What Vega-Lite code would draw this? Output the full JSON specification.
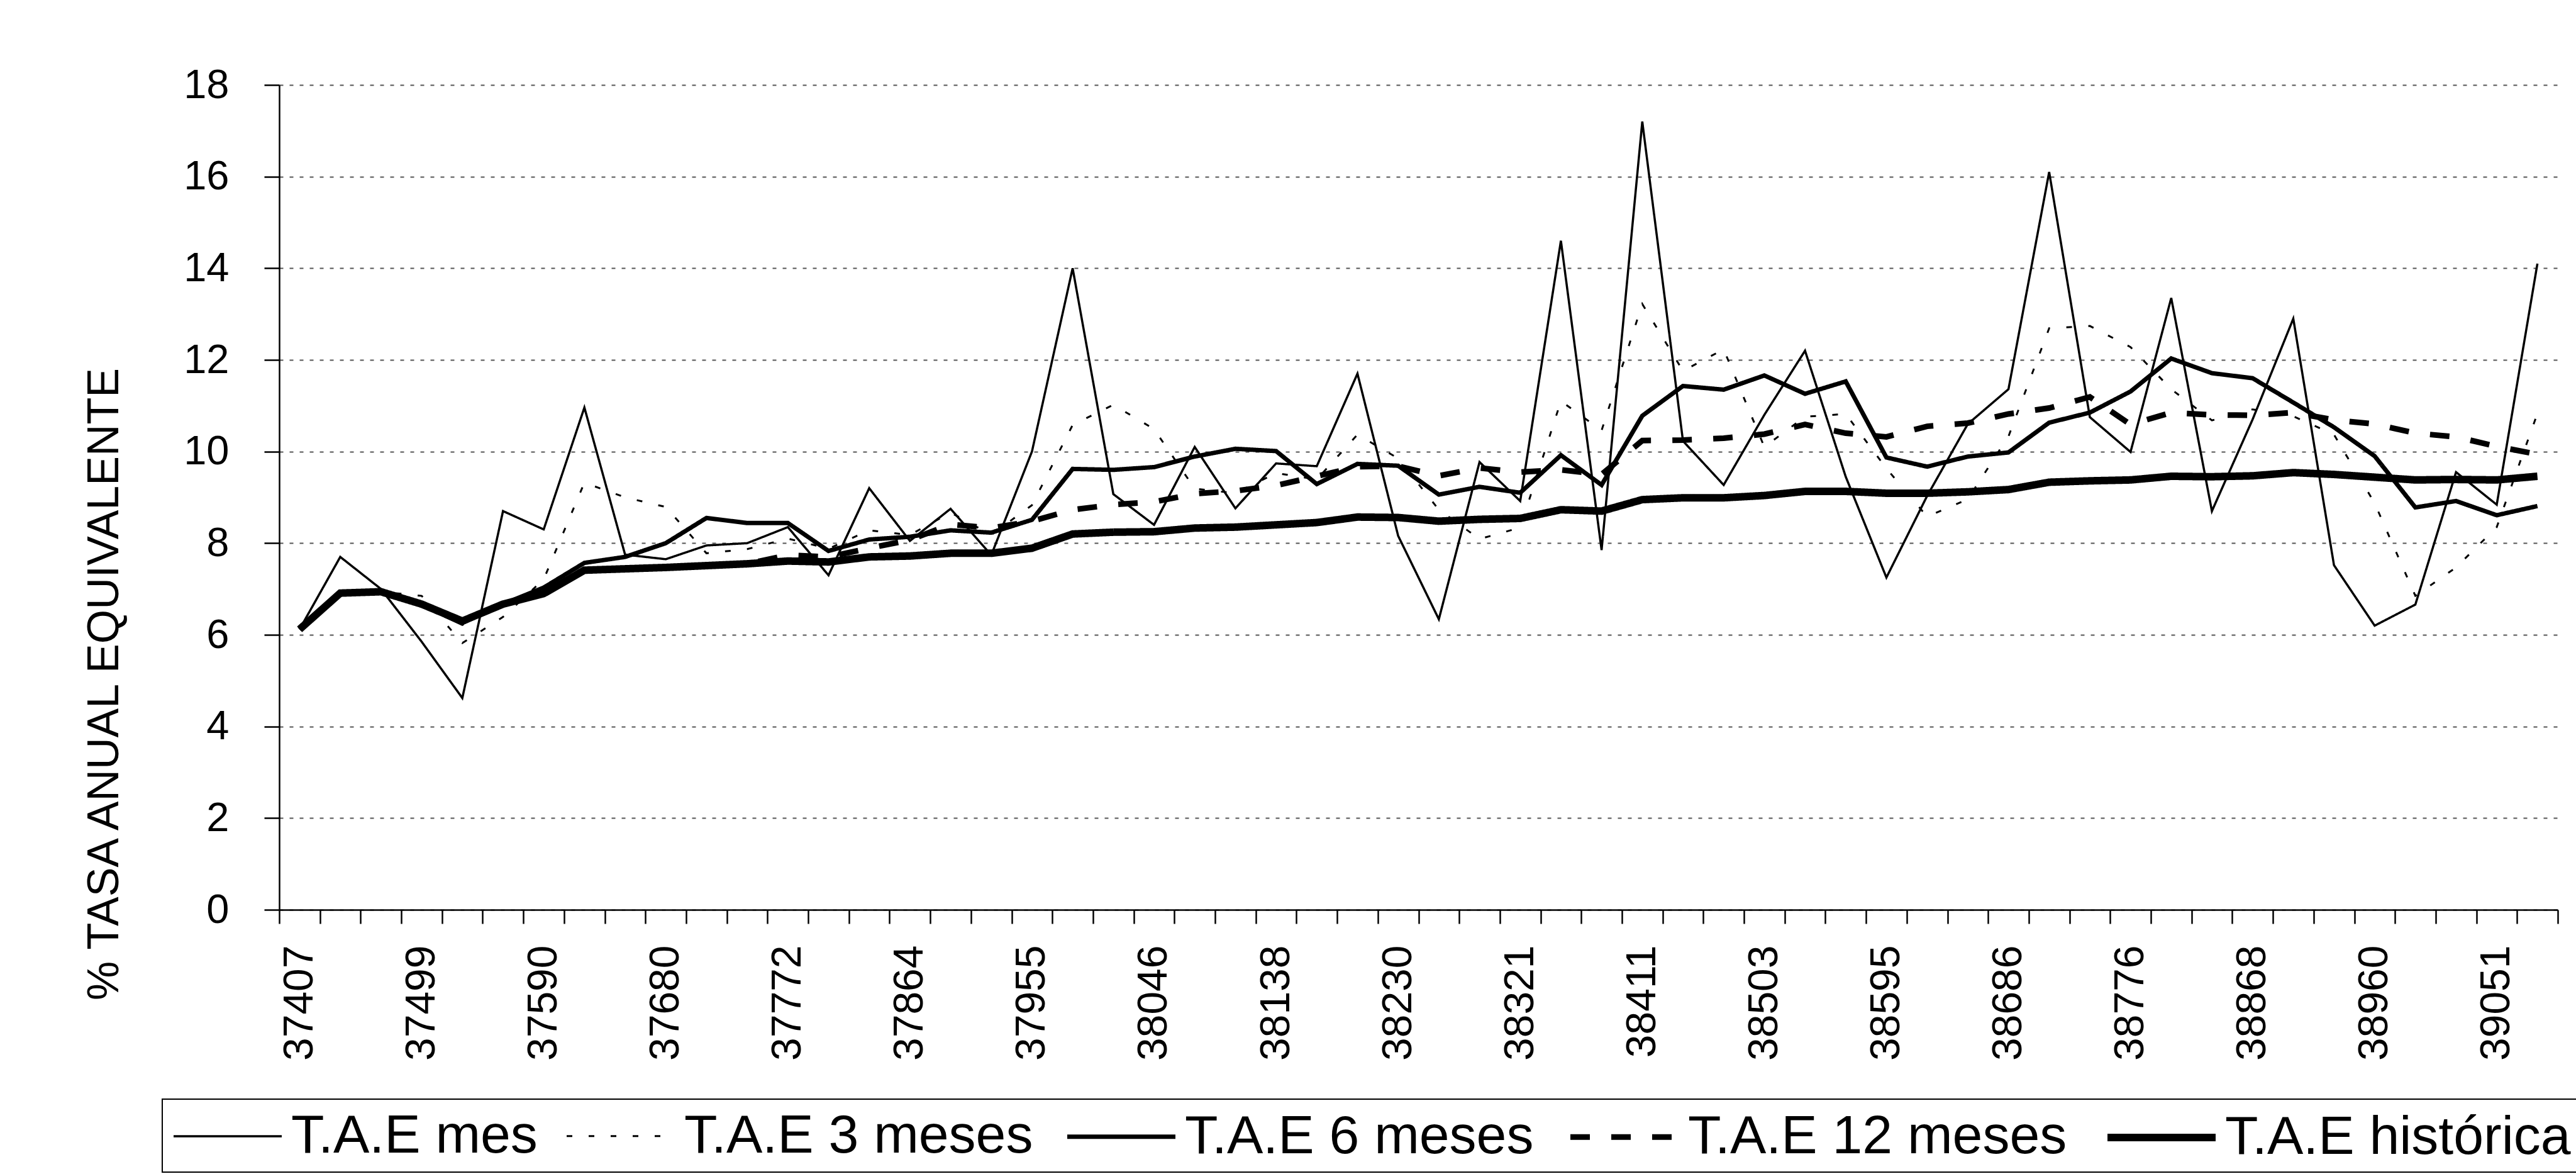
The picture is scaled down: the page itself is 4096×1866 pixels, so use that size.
{
  "$schema": "https://vega.github.io/schema/vega-lite/v6.json",
  "width": 3623,
  "height": 1311,
  "autosize": {"type": "none"},
  "padding": {"left": 444, "top": 135, "right": 29, "bottom": 420},
  "background": "white",
  "config": {
    "font": "Liberation Sans",
    "view": {"stroke": null},
    "legend": {
      "orient": "none",
      "legendX": -186,
      "legendY": 1612,
      "direction": "horizontal",
      "columns": 5,
      "labelFont": "Liberation Sans",
      "labelFontSize": 86,
      "labelColor": "black",
      "labelLimit": 2000,
      "labelOffset": 52,
      "columnPadding": 40,
      "symbolSize": 7396,
      "symbolOffset": 43,
      "symbolType": "M-2,0H2",
      "padding": 12,
      "strokeColor": "black",
      "strokeWidth": 2
    }
  },
  "data": {"values": [
    {"fecha":"37407","serie":"T.A.E mes","valor":6.12},{"fecha":"37437","serie":"T.A.E mes","valor":7.7},{"fecha":"37468","serie":"T.A.E mes","valor":7.0},{"fecha":"37499","serie":"T.A.E mes","valor":5.85},{"fecha":"37529","serie":"T.A.E mes","valor":4.62},{"fecha":"37560","serie":"T.A.E mes","valor":8.7},{"fecha":"37590","serie":"T.A.E mes","valor":8.3},{"fecha":"37621","serie":"T.A.E mes","valor":10.96},{"fecha":"37652","serie":"T.A.E mes","valor":7.75},{"fecha":"37680","serie":"T.A.E mes","valor":7.65},{"fecha":"37711","serie":"T.A.E mes","valor":7.95},{"fecha":"37741","serie":"T.A.E mes","valor":8.0},{"fecha":"37772","serie":"T.A.E mes","valor":8.35},{"fecha":"37802","serie":"T.A.E mes","valor":7.3},{"fecha":"37833","serie":"T.A.E mes","valor":9.2},{"fecha":"37864","serie":"T.A.E mes","valor":8.05},{"fecha":"37894","serie":"T.A.E mes","valor":8.75},{"fecha":"37925","serie":"T.A.E mes","valor":7.74},{"fecha":"37955","serie":"T.A.E mes","valor":10.0},{"fecha":"37986","serie":"T.A.E mes","valor":14.0},{"fecha":"38017","serie":"T.A.E mes","valor":9.07},{"fecha":"38046","serie":"T.A.E mes","valor":8.4},{"fecha":"38077","serie":"T.A.E mes","valor":10.1},{"fecha":"38107","serie":"T.A.E mes","valor":8.76},{"fecha":"38138","serie":"T.A.E mes","valor":9.74},{"fecha":"38168","serie":"T.A.E mes","valor":9.68},{"fecha":"38199","serie":"T.A.E mes","valor":11.7},{"fecha":"38230","serie":"T.A.E mes","valor":8.16},{"fecha":"38260","serie":"T.A.E mes","valor":6.34},{"fecha":"38291","serie":"T.A.E mes","valor":9.77},{"fecha":"38321","serie":"T.A.E mes","valor":8.92},{"fecha":"38352","serie":"T.A.E mes","valor":14.6},{"fecha":"38383","serie":"T.A.E mes","valor":7.85},{"fecha":"38411","serie":"T.A.E mes","valor":17.2},{"fecha":"38442","serie":"T.A.E mes","valor":10.23},{"fecha":"38472","serie":"T.A.E mes","valor":9.27},{"fecha":"38503","serie":"T.A.E mes","valor":10.8},{"fecha":"38533","serie":"T.A.E mes","valor":12.2},{"fecha":"38564","serie":"T.A.E mes","valor":9.45},{"fecha":"38595","serie":"T.A.E mes","valor":7.25},{"fecha":"38625","serie":"T.A.E mes","valor":9.03},{"fecha":"38656","serie":"T.A.E mes","valor":10.6},{"fecha":"38686","serie":"T.A.E mes","valor":11.36},{"fecha":"38717","serie":"T.A.E mes","valor":16.1},{"fecha":"38748","serie":"T.A.E mes","valor":10.75},{"fecha":"38776","serie":"T.A.E mes","valor":9.99},{"fecha":"38807","serie":"T.A.E mes","valor":13.35},{"fecha":"38837","serie":"T.A.E mes","valor":8.7},{"fecha":"38868","serie":"T.A.E mes","valor":10.7},{"fecha":"38898","serie":"T.A.E mes","valor":12.9},{"fecha":"38929","serie":"T.A.E mes","valor":7.52},{"fecha":"38960","serie":"T.A.E mes","valor":6.2},{"fecha":"38990","serie":"T.A.E mes","valor":6.66},{"fecha":"39021","serie":"T.A.E mes","valor":9.55},{"fecha":"39051","serie":"T.A.E mes","valor":8.84},{"fecha":"39082","serie":"T.A.E mes","valor":14.1},

    {"fecha":"37407","serie":"T.A.E 3 meses","valor":6.12},{"fecha":"37437","serie":"T.A.E 3 meses","valor":6.91},{"fecha":"37468","serie":"T.A.E 3 meses","valor":6.94},{"fecha":"37499","serie":"T.A.E 3 meses","valor":6.85},{"fecha":"37529","serie":"T.A.E 3 meses","valor":5.82},{"fecha":"37560","serie":"T.A.E 3 meses","valor":6.39},{"fecha":"37590","serie":"T.A.E 3 meses","valor":7.21},{"fecha":"37621","serie":"T.A.E 3 meses","valor":9.32},{"fecha":"37652","serie":"T.A.E 3 meses","valor":9.0},{"fecha":"37680","serie":"T.A.E 3 meses","valor":8.79},{"fecha":"37711","serie":"T.A.E 3 meses","valor":7.78},{"fecha":"37741","serie":"T.A.E 3 meses","valor":7.87},{"fecha":"37772","serie":"T.A.E 3 meses","valor":8.1},{"fecha":"37802","serie":"T.A.E 3 meses","valor":7.88},{"fecha":"37833","serie":"T.A.E 3 meses","valor":8.28},{"fecha":"37864","serie":"T.A.E 3 meses","valor":8.18},{"fecha":"37894","serie":"T.A.E 3 meses","valor":8.67},{"fecha":"37925","serie":"T.A.E 3 meses","valor":8.18},{"fecha":"37955","serie":"T.A.E 3 meses","valor":8.83},{"fecha":"37986","serie":"T.A.E 3 meses","valor":10.58},{"fecha":"38017","serie":"T.A.E 3 meses","valor":11.02},{"fecha":"38046","serie":"T.A.E 3 meses","valor":10.49},{"fecha":"38077","serie":"T.A.E 3 meses","valor":9.19},{"fecha":"38107","serie":"T.A.E 3 meses","valor":9.09},{"fecha":"38138","serie":"T.A.E 3 meses","valor":9.53},{"fecha":"38168","serie":"T.A.E 3 meses","valor":9.39},{"fecha":"38199","serie":"T.A.E 3 meses","valor":10.37},{"fecha":"38230","serie":"T.A.E 3 meses","valor":9.85},{"fecha":"38260","serie":"T.A.E 3 meses","valor":8.73},{"fecha":"38291","serie":"T.A.E 3 meses","valor":8.09},{"fecha":"38321","serie":"T.A.E 3 meses","valor":8.34},{"fecha":"38352","serie":"T.A.E 3 meses","valor":11.1},{"fecha":"38383","serie":"T.A.E 3 meses","valor":10.46},{"fecha":"38411","serie":"T.A.E 3 meses","valor":13.22},{"fecha":"38442","serie":"T.A.E 3 meses","valor":11.76},{"fecha":"38472","serie":"T.A.E 3 meses","valor":12.23},{"fecha":"38503","serie":"T.A.E 3 meses","valor":10.1},{"fecha":"38533","serie":"T.A.E 3 meses","valor":10.76},{"fecha":"38564","serie":"T.A.E 3 meses","valor":10.82},{"fecha":"38595","serie":"T.A.E 3 meses","valor":9.63},{"fecha":"38625","serie":"T.A.E 3 meses","valor":8.58},{"fecha":"38656","serie":"T.A.E 3 meses","valor":8.96},{"fecha":"38686","serie":"T.A.E 3 meses","valor":10.33},{"fecha":"38717","serie":"T.A.E 3 meses","valor":12.69},{"fecha":"38748","serie":"T.A.E 3 meses","valor":12.74},{"fecha":"38776","serie":"T.A.E 3 meses","valor":12.28},{"fecha":"38807","serie":"T.A.E 3 meses","valor":11.36},{"fecha":"38837","serie":"T.A.E 3 meses","valor":10.68},{"fecha":"38868","serie":"T.A.E 3 meses","valor":10.92},{"fecha":"38898","serie":"T.A.E 3 meses","valor":10.77},{"fecha":"38929","serie":"T.A.E 3 meses","valor":10.37},{"fecha":"38960","serie":"T.A.E 3 meses","valor":8.87},{"fecha":"38990","serie":"T.A.E 3 meses","valor":6.85},{"fecha":"39021","serie":"T.A.E 3 meses","valor":7.47},{"fecha":"39051","serie":"T.A.E 3 meses","valor":8.35},{"fecha":"39082","serie":"T.A.E 3 meses","valor":10.83},

    {"fecha":"37407","serie":"T.A.E 6 meses","valor":6.12},{"fecha":"37437","serie":"T.A.E 6 meses","valor":6.91},{"fecha":"37468","serie":"T.A.E 6 meses","valor":6.94},{"fecha":"37499","serie":"T.A.E 6 meses","valor":6.67},{"fecha":"37529","serie":"T.A.E 6 meses","valor":6.26},{"fecha":"37560","serie":"T.A.E 6 meses","valor":6.67},{"fecha":"37590","serie":"T.A.E 6 meses","valor":7.03},{"fecha":"37621","serie":"T.A.E 6 meses","valor":7.57},{"fecha":"37652","serie":"T.A.E 6 meses","valor":7.7},{"fecha":"37680","serie":"T.A.E 6 meses","valor":8.0},{"fecha":"37711","serie":"T.A.E 6 meses","valor":8.55},{"fecha":"37741","serie":"T.A.E 6 meses","valor":8.44},{"fecha":"37772","serie":"T.A.E 6 meses","valor":8.44},{"fecha":"37802","serie":"T.A.E 6 meses","valor":7.83},{"fecha":"37833","serie":"T.A.E 6 meses","valor":8.08},{"fecha":"37864","serie":"T.A.E 6 meses","valor":8.14},{"fecha":"37894","serie":"T.A.E 6 meses","valor":8.28},{"fecha":"37925","serie":"T.A.E 6 meses","valor":8.23},{"fecha":"37955","serie":"T.A.E 6 meses","valor":8.51},{"fecha":"37986","serie":"T.A.E 6 meses","valor":9.62},{"fecha":"38017","serie":"T.A.E 6 meses","valor":9.6},{"fecha":"38046","serie":"T.A.E 6 meses","valor":9.66},{"fecha":"38077","serie":"T.A.E 6 meses","valor":9.89},{"fecha":"38107","serie":"T.A.E 6 meses","valor":10.06},{"fecha":"38138","serie":"T.A.E 6 meses","valor":10.01},{"fecha":"38168","serie":"T.A.E 6 meses","valor":9.29},{"fecha":"38199","serie":"T.A.E 6 meses","valor":9.73},{"fecha":"38230","serie":"T.A.E 6 meses","valor":9.69},{"fecha":"38260","serie":"T.A.E 6 meses","valor":9.06},{"fecha":"38291","serie":"T.A.E 6 meses","valor":9.23},{"fecha":"38321","serie":"T.A.E 6 meses","valor":9.1},{"fecha":"38352","serie":"T.A.E 6 meses","valor":9.92},{"fecha":"38383","serie":"T.A.E 6 meses","valor":9.27},{"fecha":"38411","serie":"T.A.E 6 meses","valor":10.78},{"fecha":"38442","serie":"T.A.E 6 meses","valor":11.43},{"fecha":"38472","serie":"T.A.E 6 meses","valor":11.35},{"fecha":"38503","serie":"T.A.E 6 meses","valor":11.66},{"fecha":"38533","serie":"T.A.E 6 meses","valor":11.26},{"fecha":"38564","serie":"T.A.E 6 meses","valor":11.53},{"fecha":"38595","serie":"T.A.E 6 meses","valor":9.87},{"fecha":"38625","serie":"T.A.E 6 meses","valor":9.67},{"fecha":"38656","serie":"T.A.E 6 meses","valor":9.89},{"fecha":"38686","serie":"T.A.E 6 meses","valor":9.98},{"fecha":"38717","serie":"T.A.E 6 meses","valor":10.63},{"fecha":"38748","serie":"T.A.E 6 meses","valor":10.85},{"fecha":"38776","serie":"T.A.E 6 meses","valor":11.31},{"fecha":"38807","serie":"T.A.E 6 meses","valor":12.03},{"fecha":"38837","serie":"T.A.E 6 meses","valor":11.71},{"fecha":"38868","serie":"T.A.E 6 meses","valor":11.6},{"fecha":"38898","serie":"T.A.E 6 meses","valor":11.07},{"fecha":"38929","serie":"T.A.E 6 meses","valor":10.53},{"fecha":"38960","serie":"T.A.E 6 meses","valor":9.9},{"fecha":"38990","serie":"T.A.E 6 meses","valor":8.78},{"fecha":"39021","serie":"T.A.E 6 meses","valor":8.92},{"fecha":"39051","serie":"T.A.E 6 meses","valor":8.61},{"fecha":"39082","serie":"T.A.E 6 meses","valor":8.81},

    {"fecha":"37407","serie":"T.A.E 12 meses","valor":6.12},{"fecha":"37437","serie":"T.A.E 12 meses","valor":6.91},{"fecha":"37468","serie":"T.A.E 12 meses","valor":6.94},{"fecha":"37499","serie":"T.A.E 12 meses","valor":6.67},{"fecha":"37529","serie":"T.A.E 12 meses","valor":6.26},{"fecha":"37560","serie":"T.A.E 12 meses","valor":6.67},{"fecha":"37590","serie":"T.A.E 12 meses","valor":6.9},{"fecha":"37621","serie":"T.A.E 12 meses","valor":7.41},{"fecha":"37652","serie":"T.A.E 12 meses","valor":7.44},{"fecha":"37680","serie":"T.A.E 12 meses","valor":7.47},{"fecha":"37711","serie":"T.A.E 12 meses","valor":7.51},{"fecha":"37741","serie":"T.A.E 12 meses","valor":7.55},{"fecha":"37772","serie":"T.A.E 12 meses","valor":7.74},{"fecha":"37802","serie":"T.A.E 12 meses","valor":7.7},{"fecha":"37833","serie":"T.A.E 12 meses","valor":7.89},{"fecha":"37864","serie":"T.A.E 12 meses","valor":8.07},{"fecha":"37894","serie":"T.A.E 12 meses","valor":8.41},{"fecha":"37925","serie":"T.A.E 12 meses","valor":8.33},{"fecha":"37955","serie":"T.A.E 12 meses","valor":8.48},{"fecha":"37986","serie":"T.A.E 12 meses","valor":8.73},{"fecha":"38017","serie":"T.A.E 12 meses","valor":8.84},{"fecha":"38046","serie":"T.A.E 12 meses","valor":8.9},{"fecha":"38077","serie":"T.A.E 12 meses","valor":9.08},{"fecha":"38107","serie":"T.A.E 12 meses","valor":9.14},{"fecha":"38138","serie":"T.A.E 12 meses","valor":9.26},{"fecha":"38168","serie":"T.A.E 12 meses","valor":9.46},{"fecha":"38199","serie":"T.A.E 12 meses","valor":9.67},{"fecha":"38230","serie":"T.A.E 12 meses","valor":9.68},{"fecha":"38260","serie":"T.A.E 12 meses","valor":9.47},{"fecha":"38291","serie":"T.A.E 12 meses","valor":9.64},{"fecha":"38321","serie":"T.A.E 12 meses","valor":9.55},{"fecha":"38352","serie":"T.A.E 12 meses","valor":9.6},{"fecha":"38383","serie":"T.A.E 12 meses","valor":9.5},{"fecha":"38411","serie":"T.A.E 12 meses","valor":10.24},{"fecha":"38442","serie":"T.A.E 12 meses","valor":10.25},{"fecha":"38472","serie":"T.A.E 12 meses","valor":10.29},{"fecha":"38503","serie":"T.A.E 12 meses","valor":10.38},{"fecha":"38533","serie":"T.A.E 12 meses","valor":10.59},{"fecha":"38564","serie":"T.A.E 12 meses","valor":10.4},{"fecha":"38595","serie":"T.A.E 12 meses","valor":10.32},{"fecha":"38625","serie":"T.A.E 12 meses","valor":10.55},{"fecha":"38656","serie":"T.A.E 12 meses","valor":10.62},{"fecha":"38686","serie":"T.A.E 12 meses","valor":10.82},{"fecha":"38717","serie":"T.A.E 12 meses","valor":10.95},{"fecha":"38748","serie":"T.A.E 12 meses","valor":11.19},{"fecha":"38776","serie":"T.A.E 12 meses","valor":10.59},{"fecha":"38807","serie":"T.A.E 12 meses","valor":10.85},{"fecha":"38837","serie":"T.A.E 12 meses","valor":10.8},{"fecha":"38868","serie":"T.A.E 12 meses","valor":10.79},{"fecha":"38898","serie":"T.A.E 12 meses","valor":10.85},{"fecha":"38929","serie":"T.A.E 12 meses","valor":10.69},{"fecha":"38960","serie":"T.A.E 12 meses","valor":10.6},{"fecha":"38990","serie":"T.A.E 12 meses","valor":10.4},{"fecha":"39021","serie":"T.A.E 12 meses","valor":10.32},{"fecha":"39051","serie":"T.A.E 12 meses","valor":10.11},{"fecha":"39082","serie":"T.A.E 12 meses","valor":9.94},

    {"fecha":"37407","serie":"T.A.E histórica","valor":6.12},{"fecha":"37437","serie":"T.A.E histórica","valor":6.91},{"fecha":"37468","serie":"T.A.E histórica","valor":6.94},{"fecha":"37499","serie":"T.A.E histórica","valor":6.67},{"fecha":"37529","serie":"T.A.E histórica","valor":6.3},{"fecha":"37560","serie":"T.A.E histórica","valor":6.67},{"fecha":"37590","serie":"T.A.E histórica","valor":6.9},{"fecha":"37621","serie":"T.A.E histórica","valor":7.41},{"fecha":"37652","serie":"T.A.E histórica","valor":7.44},{"fecha":"37680","serie":"T.A.E histórica","valor":7.47},{"fecha":"37711","serie":"T.A.E histórica","valor":7.51},{"fecha":"37741","serie":"T.A.E histórica","valor":7.55},{"fecha":"37772","serie":"T.A.E histórica","valor":7.61},{"fecha":"37802","serie":"T.A.E histórica","valor":7.59},{"fecha":"37833","serie":"T.A.E histórica","valor":7.7},{"fecha":"37864","serie":"T.A.E histórica","valor":7.72},{"fecha":"37894","serie":"T.A.E histórica","valor":7.78},{"fecha":"37925","serie":"T.A.E histórica","valor":7.78},{"fecha":"37955","serie":"T.A.E histórica","valor":7.89},{"fecha":"37986","serie":"T.A.E histórica","valor":8.2},{"fecha":"38017","serie":"T.A.E histórica","valor":8.24},{"fecha":"38046","serie":"T.A.E histórica","valor":8.25},{"fecha":"38077","serie":"T.A.E histórica","valor":8.33},{"fecha":"38107","serie":"T.A.E histórica","valor":8.35},{"fecha":"38138","serie":"T.A.E histórica","valor":8.4},{"fecha":"38168","serie":"T.A.E histórica","valor":8.45},{"fecha":"38199","serie":"T.A.E histórica","valor":8.57},{"fecha":"38230","serie":"T.A.E histórica","valor":8.56},{"fecha":"38260","serie":"T.A.E histórica","valor":8.48},{"fecha":"38291","serie":"T.A.E histórica","valor":8.52},{"fecha":"38321","serie":"T.A.E histórica","valor":8.54},{"fecha":"38352","serie":"T.A.E histórica","valor":8.73},{"fecha":"38383","serie":"T.A.E histórica","valor":8.7},{"fecha":"38411","serie":"T.A.E histórica","valor":8.95},{"fecha":"38442","serie":"T.A.E histórica","valor":8.99},{"fecha":"38472","serie":"T.A.E histórica","valor":8.99},{"fecha":"38503","serie":"T.A.E histórica","valor":9.04},{"fecha":"38533","serie":"T.A.E histórica","valor":9.13},{"fecha":"38564","serie":"T.A.E histórica","valor":9.13},{"fecha":"38595","serie":"T.A.E histórica","valor":9.09},{"fecha":"38625","serie":"T.A.E histórica","valor":9.09},{"fecha":"38656","serie":"T.A.E histórica","valor":9.12},{"fecha":"38686","serie":"T.A.E histórica","valor":9.17},{"fecha":"38717","serie":"T.A.E histórica","valor":9.33},{"fecha":"38748","serie":"T.A.E histórica","valor":9.36},{"fecha":"38776","serie":"T.A.E histórica","valor":9.38},{"fecha":"38807","serie":"T.A.E histórica","valor":9.46},{"fecha":"38837","serie":"T.A.E histórica","valor":9.45},{"fecha":"38868","serie":"T.A.E histórica","valor":9.47},{"fecha":"38898","serie":"T.A.E histórica","valor":9.54},{"fecha":"38929","serie":"T.A.E histórica","valor":9.5},{"fecha":"38960","serie":"T.A.E histórica","valor":9.44},{"fecha":"38990","serie":"T.A.E histórica","valor":9.38},{"fecha":"39021","serie":"T.A.E histórica","valor":9.39},{"fecha":"39051","serie":"T.A.E histórica","valor":9.38},{"fecha":"39082","serie":"T.A.E histórica","valor":9.46}
  ]},
  "mark": {"type": "line", "clip": false},
  "encoding": {
    "x": {
      "field": "fecha",
      "type": "ordinal",
      "bandPosition": 0.5,
      "scale": {"type": "band", "paddingInner": 0, "paddingOuter": 0},
      "axis": {
        "title": null,
        "labelAngle": 270,
        "labelFont": "Liberation Sans",
        "labelFontSize": 66,
        "labelColor": "black",
        "labelPadding": 34,
        "labelLimit": 1000,
        "labelOverlap": false,
        "labelBound": false,
        "labelExpr": "indexof(['37407','37499','37590','37680','37772','37864','37955','38046','38138','38230','38321','38411','38503','38595','38686','38776','38868','38960','39051'], datum.value) >= 0 ? datum.value : ''",
        "tickBand": "extent",
        "tickSize": 22,
        "tickWidth": 2.5,
        "tickColor": "black",
        "domainColor": "black",
        "domainWidth": 2.5,
        "grid": false
      }
    },
    "y": {
      "field": "valor",
      "type": "quantitative",
      "scale": {"domain": [0, 18], "nice": false, "zero": true},
      "axis": {
        "title": "% TASA ANUAL EQUIVALENTE",
        "values": [0, 2, 4, 6, 8, 10, 12, 14, 16, 18],
        "labelFont": "Liberation Sans",
        "labelFontSize": 65,
        "labelColor": "black",
        "labelPadding": 56,
        "tickSize": 24,
        "tickWidth": 2.5,
        "tickColor": "black",
        "domainColor": "black",
        "domainWidth": 2.5,
        "grid": true,
        "gridColor": "#555555",
        "gridDash": [6, 10],
        "gridWidth": 2,
        "titleFont": "Liberation Sans",
        "titleFontSize": 70,
        "titleFontWeight": "normal",
        "titleColor": "black",
        "titleAngle": 270,
        "titleAlign": "center",
        "titleBaseline": "middle",
        "titleX": -278,
        "titleY": 952
      }
    },
    "color": {
      "field": "serie",
      "type": "nominal",
      "scale": {"domain": ["T.A.E mes", "T.A.E 3 meses", "T.A.E 6 meses", "T.A.E 12 meses", "T.A.E histórica"], "range": ["black", "black", "black", "black", "black"]},
      "legend": {"title": null, "symbolType": "M-2,0H2"}
    },
    "strokeDash": {
      "field": "serie",
      "type": "nominal",
      "scale": {"domain": ["T.A.E mes", "T.A.E 3 meses", "T.A.E 6 meses", "T.A.E 12 meses", "T.A.E histórica"], "range": [[1, 0], [9, 26], [1, 0], [31, 34], [1, 0]]},
      "legend": {"title": null, "symbolType": "M-2,0H2"}
    },
    "strokeWidth": {
      "field": "serie",
      "type": "ordinal",
      "scale": {"type": "ordinal", "domain": ["T.A.E mes", "T.A.E 3 meses", "T.A.E 6 meses", "T.A.E 12 meses", "T.A.E histórica"], "range": [3.5, 3, 7, 9, 12]},
      "legend": {"title": null, "symbolType": "M-2,0H2"}
    }
  }
}
